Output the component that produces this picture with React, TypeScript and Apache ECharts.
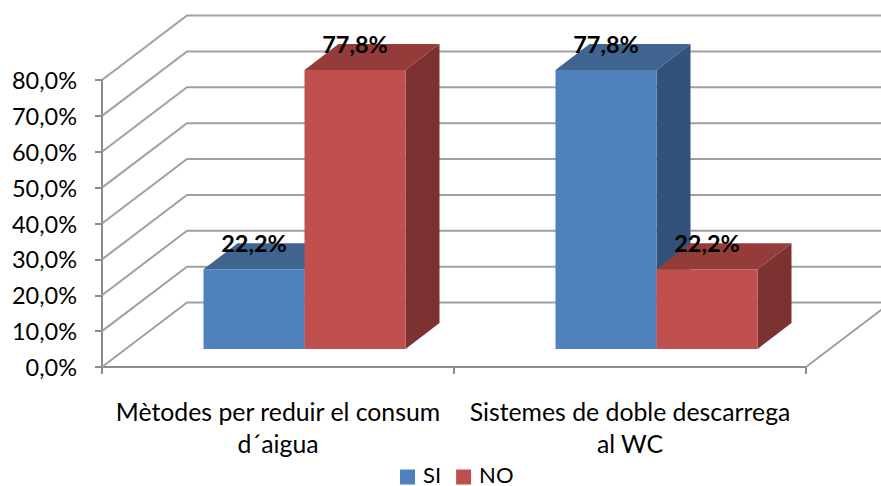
import React, { useEffect, useRef } from "react";
import * as echarts from "echarts";

const categories = ["Mètodes per reduir el consum\nd´aigua", "Sistemes de doble descarrega\nal WC"];
const seriesSI = [22.2, 77.8];
const seriesNO = [77.8, 22.2];
const gridTicks = [0, 10, 20, 30, 40, 50, 60, 70, 80];

const FONT = "Lato";
const GRID_COLOR = "#a0a0a0";
const BAR_W_FRAC = 101 / 352;
const SHIFT_X = 26.5;
const SHIFT_Y = 18;
const DEPTH_X = 34;
const DEPTH_Y = 26;
const WALL_X = 85;
const WALL_Y = 64.5;
const LEGEND_ICON = "path://M0 0L0 0M0 6L15 6L15 21L0 21Z";

const pct = (v: number) => v.toFixed(1).replace(".", ",") + "%";

function barRenderer(side: "left" | "right", front: string, top: string, flank: string) {
  return (_params: any, api: any) => {
    const cat = api.value(0);
    const val = api.value(1);
    const base = api.coord([cat, 0]);
    const head = api.coord([cat, val]);
    const band = api.size([1, 0])[0];
    const w = band * BAR_W_FRAC;
    const cx = base[0] + SHIFT_X;
    const x0 = side === "left" ? cx - w : cx;
    const x1 = x0 + w;
    const yb = base[1] - SHIFT_Y;
    const yt = head[1] - SHIFT_Y;
    return {
      type: "group",
      children: [
        {
          type: "polygon",
          shape: { points: [[x1, yt], [x1 + DEPTH_X, yt - DEPTH_Y], [x1 + DEPTH_X, yb - DEPTH_Y], [x1, yb]] },
          style: { fill: flank },
        },
        {
          type: "polygon",
          shape: { points: [[x0, yt], [x0 + DEPTH_X, yt - DEPTH_Y], [x1 + DEPTH_X, yt - DEPTH_Y], [x1, yt]] },
          style: { fill: top },
        },
        { type: "rect", shape: { x: x0, y: yt, width: w, height: yb - yt }, style: { fill: front } },
        {
          type: "text",
          z2: 10,
          style: {
            x: (x0 + x1) / 2,
            y: yt - 26,
            text: pct(val),
            align: "center",
            verticalAlign: "middle",
            fill: "#000",
            font: `bold 23.5px ${FONT}`,
          },
        },
      ],
    };
  };
}

function wallRenderer(params: any, api: any) {
  const t = api.value(0);
  const sys = params.coordSys;
  const p = api.coord([0, t]);
  const x = sys.x;
  const y = p[1];
  const right = sys.x + sys.width;
  const children: any[] = [
    {
      type: "polyline",
      shape: { points: [[x, y], [x + WALL_X, y - WALL_Y], [right + WALL_X, y - WALL_Y]] },
      style: { fill: "none", stroke: GRID_COLOR, lineWidth: 2 },
    },
  ];
  if (t === 0) {
    children.push({
      type: "line",
      shape: { x1: right, y1: y, x2: right + WALL_X, y2: y - WALL_Y },
      style: { stroke: GRID_COLOR, lineWidth: 2 },
    });
  }
  return { type: "group", children };
}

export default function App() {
  const ref = useRef<HTMLDivElement>(null);
  useEffect(() => {
    const chart = echarts.init(ref.current!, undefined, { renderer: "svg" });
    chart.setOption({
      animation: false,
      backgroundColor: "#fff",
      grid: { left: 102, right: 75, top: 80, bottom: 119 },
      legend: {
        data: [
          { name: "SI", icon: LEGEND_ICON },
          { name: "NO", icon: LEGEND_ICON },
        ],
        left: 395,
        top: 458,
        itemWidth: 15,
        itemHeight: 21,
        itemGap: 15,
        textStyle: { fontFamily: FONT, fontSize: 22, lineHeight: 18, color: "#000", padding: [0, 0, 0, 3] },
      },
      xAxis: {
        type: "category",
        data: categories,
        axisLine: { lineStyle: { color: "#8c8c8c", width: 2 } },
        axisTick: { show: true, alignWithLabel: false, length: 7, lineStyle: { color: "#8c8c8c", width: 2 } },
        axisLabel: {
          interval: 0,
          margin: 28,
          lineHeight: 32,
          fontFamily: FONT,
          fontSize: 24.8,
          color: "#000",
        },
      },
      yAxis: {
        type: "value",
        min: 0,
        max: 80,
        interval: 10,
        splitLine: { show: false },
        axisLine: { show: true, lineStyle: { color: "#8c8c8c", width: 2 } },
        axisTick: { show: true, length: 7, lineStyle: { color: "#8c8c8c", width: 2 } },
        axisLabel: {
          margin: 25,
          fontFamily: FONT,
          fontSize: 23.5,
          color: "#000",
          formatter: (v: number) => pct(v),
        },
      },
      series: [
        {
          type: "custom",
          name: "walls",
          silent: true,
          z: 1,
          clip: false,
          coordinateSystem: "cartesian2d",
          encode: { y: 0 },
          data: gridTicks.map((t) => [t]),
          renderItem: wallRenderer,
        },
        {
          type: "custom",
          name: "SI",
          z: 3,
          clip: false,
          itemStyle: { color: "#4F81BD" },
          encode: { x: 0, y: 1 },
          data: seriesSI.map((v, i) => [i, v]),
          renderItem: barRenderer("left", "#4F81BD", "#3F6490", "#32527A"),
        },
        {
          type: "custom",
          name: "NO",
          z: 4,
          clip: false,
          itemStyle: { color: "#C0504D" },
          encode: { x: 0, y: 1 },
          data: seriesNO.map((v, i) => [i, v]),
          renderItem: barRenderer("right", "#C0504D", "#943C3A", "#7B3230"),
        },
      ],
    });
    return () => chart.dispose();
  }, []);
  return <div ref={ref} style={{ position: "absolute", left: 0, top: 0, width: 881, height: 486 }} />;
}
